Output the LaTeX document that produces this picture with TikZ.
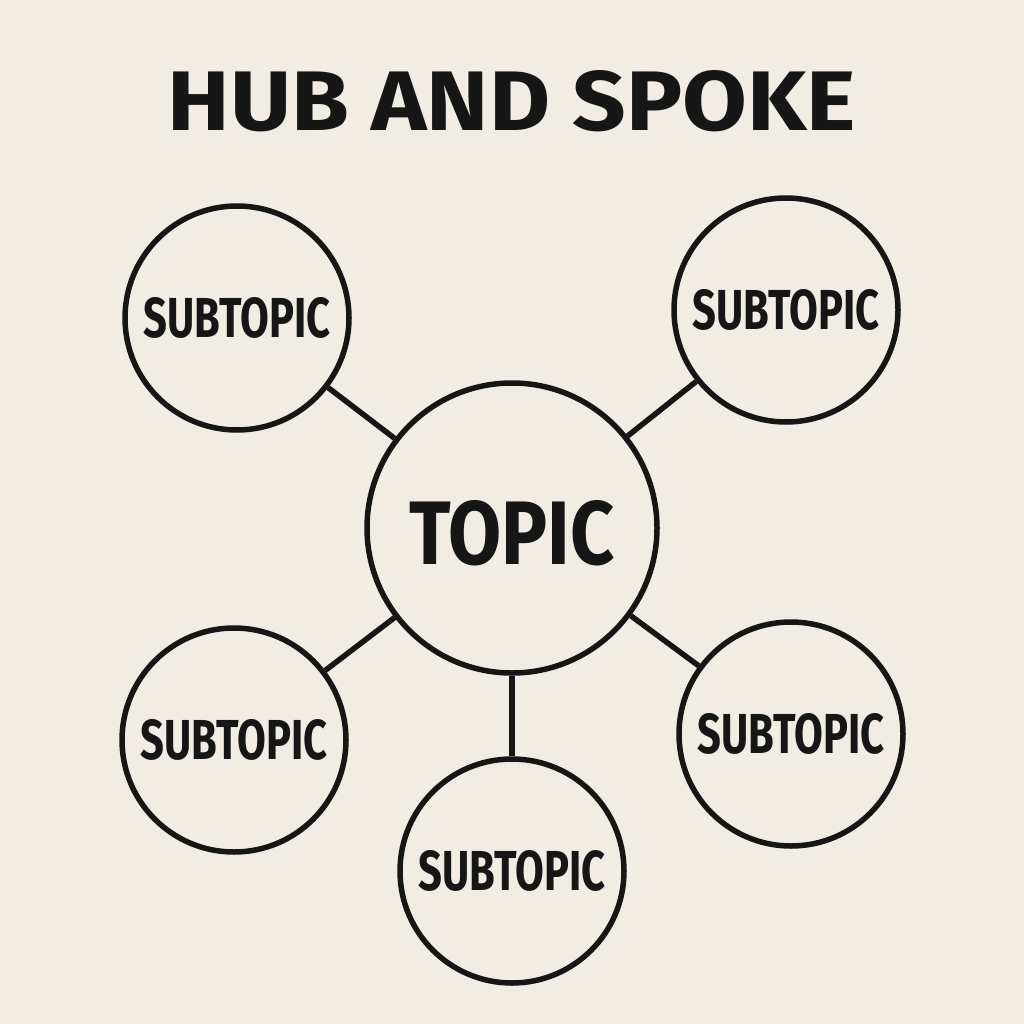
\documentclass[tikz,border=0pt]{standalone}
\usepackage{fontspec}
\setmainfont{Fira Sans}
\usepackage{graphicx}
\definecolor{paper}{HTML}{F1EDE5}
\definecolor{ink}{HTML}{161616}
\begin{document}
\begin{tikzpicture}[x=1pt,y=-1pt,
  hubcircle/.style={circle,draw=ink,line width=5.5pt,inner sep=0pt,minimum size=290pt},
  subcircle/.style={circle,draw=ink,line width=5.5pt,inner sep=0pt,minimum size=224pt},
  spoke/.style={draw=ink,line width=5.5pt}]
\fill[paper] (0,0) rectangle (1024,1024);
\useasboundingbox (0,0) rectangle (1024,1024);
\node[text=ink,inner sep=0pt] (title) at (512,101) {\resizebox{688pt}{60pt}{\bfseries HUB AND SPOKE}};
\node[hubcircle] (hub) at (512,528) {};
\node[text=ink,inner sep=0pt] (hubtext) at (512,533) {\resizebox{205pt}{64pt}{\bfseries TOPIC}};
\node[subcircle] (tl) at (237,318) {\resizebox{187pt}{40pt}{\color{ink}\bfseries SUBTOPIC}};
\node[subcircle] (tr) at (786,310) {\resizebox{187pt}{40pt}{\color{ink}\bfseries SUBTOPIC}};
\node[subcircle] (bl) at (234,740) {\resizebox{187pt}{40pt}{\color{ink}\bfseries SUBTOPIC}};
\node[subcircle] (br) at (791,734) {\resizebox{187pt}{40pt}{\color{ink}\bfseries SUBTOPIC}};
\node[subcircle] (bm) at (512,871) {\resizebox{187pt}{40pt}{\color{ink}\bfseries SUBTOPIC}};
\draw[spoke] (hub) -- (tl);
\draw[spoke] (hub) -- (tr);
\draw[spoke] (hub) -- (bl);
\draw[spoke] (hub) -- (br);
\draw[spoke] (hub) -- (bm);
\end{tikzpicture}
\end{document}
